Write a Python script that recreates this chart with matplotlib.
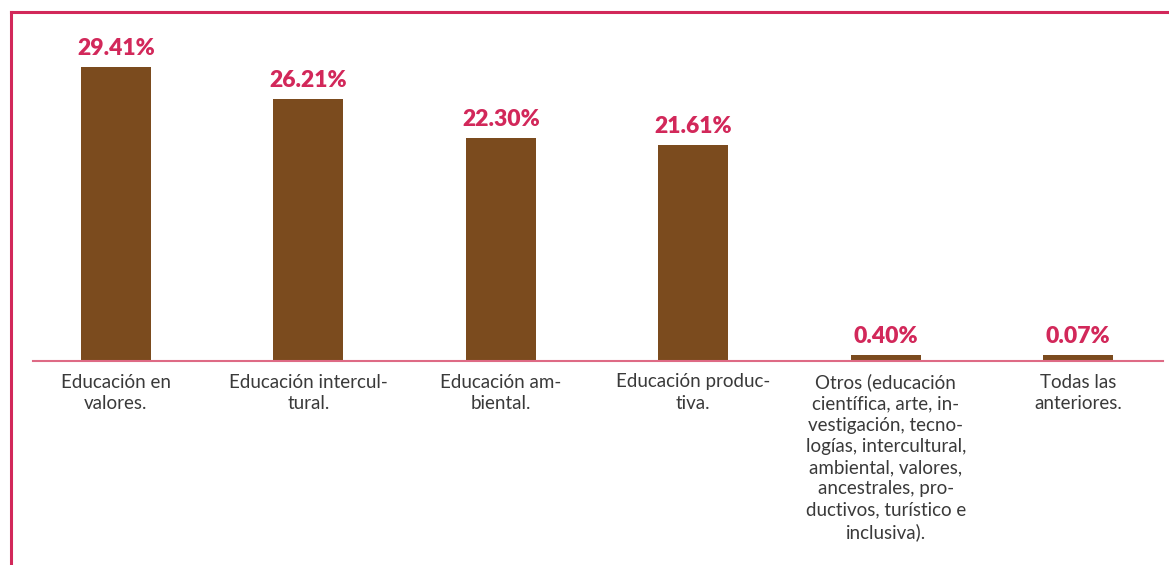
import matplotlib
matplotlib.use("Agg")
import matplotlib.pyplot as plt
from matplotlib.lines import Line2D
import numpy as np

categories = [
    "Educación en\nvalores.",
    "Educación intercul-\ntural.",
    "Educación am-\nbiental.",
    "Educación produc-\ntiva.",
    "Otros (educación\ncientífica, arte, in-\nvestigación, tecno-\nlogías, intercultural,\nambiental, valores,\nancestrales, pro-\nductivos, turístico e\ninclusiva).",
    "Todas las\nanteriores.",
]
values = [29.41, 26.21, 22.30, 21.61, 0.40, 0.07]
value_labels = ["29.41%", "26.21%", "22.30%", "21.61%", "0.40%", "0.07%"]

BAR_COLOR = "#7B4B1E"
ACCENT = "#D2285A"
BASE_LINE = "#DE6A85"
TEXT_GRAY = "#3a3a3a"

W, H = 1169, 565
fig = plt.figure(figsize=(W / 100, H / 100), dpi=100)
ax = fig.add_axes([33 / W, (H - 361) / H, (1163 - 33) / W, 320 / H])

x = np.arange(len(values))
# tiny shares still get a visible sliver, as in the original layout
shown = np.maximum(values, 0.6)
ax.bar(x, shown, width=0.364, color=BAR_COLOR, zorder=2)

for xi, h, lab in zip(x, shown, value_labels):
    ax.annotate(lab, (xi, h), textcoords="offset points", xytext=(0, 6),
                ha="center", va="bottom", color=ACCENT, fontsize=16.5,
                fontweight="heavy", family="Lato")

ax.set_xlim(-0.43, 5.44)
ax.set_ylim(0, 32)
ax.set_xticks(x)
ax.set_xticklabels(categories, fontsize=13.5, color=TEXT_GRAY, family="Lato",
                   linespacing=1.3, va="top")
ax.tick_params(axis="x", length=0, pad=9)
ax.set_yticks([])
for side in ["top", "right", "left"]:
    ax.spines[side].set_visible(False)
ax.spines["bottom"].set_color(BASE_LINE)
ax.spines["bottom"].set_linewidth(1.5)

# crimson frame (left and top edges)
fig.add_artist(Line2D([10.5 / W, 10.5 / W], [0, 1 - 11.5 / H], color=ACCENT, linewidth=2.2,
                      transform=fig.transFigure, solid_capstyle="projecting"))
fig.add_artist(Line2D([10.5 / W, 1], [1 - 11.5 / H, 1 - 11.5 / H], color=ACCENT, linewidth=2.2,
                      transform=fig.transFigure, solid_capstyle="projecting"))

fig.savefig("out.png", dpi=100)
